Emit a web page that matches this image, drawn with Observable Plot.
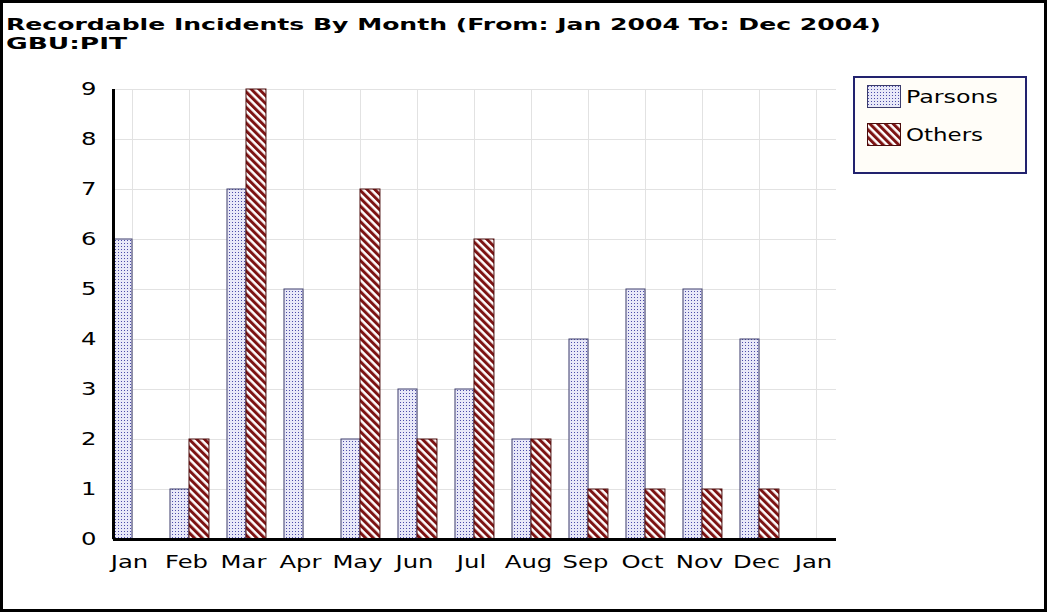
<!DOCTYPE html>
<html><head><meta charset="utf-8">
<script src="https://cdn.jsdelivr.net/npm/d3@7"></script>
<script src="https://cdn.jsdelivr.net/npm/@observablehq/plot@0.6"></script>
<style>
html,body{margin:0;padding:0;background:#fff;}
#wrap{position:relative;width:1047px;height:612px;overflow:hidden;background:#fff;font-family:"DejaVu Sans",sans-serif;color:#000;}
#frame{position:absolute;left:0;top:0;width:1047px;height:612px;box-sizing:border-box;border:3px solid #000;pointer-events:none;}
#head{position:relative;height:50px;}
.tline{position:absolute;left:6px;font-weight:bold;font-size:16px;line-height:normal;white-space:nowrap;transform-origin:0 50%;}
#chart svg{display:block;}
#legend{position:absolute;left:853px;top:76px;width:174px;height:98px;box-sizing:border-box;border:2px solid #22226e;background:#fffdf8;}
.item{position:absolute;left:12px;height:23px;display:flex;align-items:center;}
.item svg{display:block;}
.item span{font-size:18px;white-space:nowrap;transform-origin:0 50%;display:inline-block;margin-left:5px;}
</style></head>
<body>
<svg width="0" height="0" style="position:absolute">
  <defs>
    <pattern id="patParsons" patternUnits="userSpaceOnUse" width="3" height="3">
      <rect width="3" height="3" fill="#e8e8f8"></rect>
      <rect x="1" y="1" width="1" height="1" fill="#4c4ca8"></rect>
    </pattern>
    <pattern id="patOthers" patternUnits="userSpaceOnUse" width="5.5" height="5.5" patternTransform="rotate(-45)">
      <rect width="5.5" height="5.5" fill="#ffffff"></rect>
      <rect x="0" y="0" width="3" height="5.5" fill="#7d1313"></rect>
    </pattern>
  </defs>
</svg>
<div id="wrap">
  <div id="head">
    <div class="tline" id="t1" style="top:15px"></div>
    <div class="tline" id="t2" style="top:34px"></div>
  </div>
  <div id="chart"></div>
  <div id="legend"></div>
  <div id="frame"></div>
</div>
<script>
const titleText = "Recordable Incidents By Month (From: Jan 2004 To: Dec 2004)";
const subtitleText = "GBU:PIT";
const months = ["Jan","Feb","Mar","Apr","May","Jun","Jul","Aug","Sep","Oct","Nov","Dec","Jan"];
const parsons = [6,1,7,5,2,3,3,2,4,5,5,4];
const others  = [0,2,9,0,7,2,6,2,1,1,1,1];
const yTicks = [0,1,2,3,4,5,6,7,8,9];
const seriesNames = ["Parsons","Others"];
const seriesFill = ["url(#patParsons)","url(#patOthers)"];
const seriesStroke = ["#3c3c6c","#4a0c0c"];

function fitWidth(el, target) {
  const w = el.getBoundingClientRect().width;
  if (w > 0) el.style.transform = `scaleX(${target / w})`;
}

const t1 = document.getElementById("t1");
const t2 = document.getElementById("t2");
t1.textContent = titleText;
t2.textContent = subtitleText;
fitWidth(t1, 875);
fitWidth(t2, 121);

const idx = months.map((_, i) => i);
const pData = parsons.map((v, i) => ({i, v})).filter(d => d.v > 0);
const oData = others.map((v, i) => ({i, v})).filter(d => d.v > 0);

const chart = Plot.plot({
  width: 1047, height: 562,
  marginLeft: 113, marginRight: 211, marginTop: 39, marginBottom: 73,
  x: {type: "linear", domain: [-1/3, 12.351]},
  y: {domain: [0, 9]},
  style: {fontFamily: "DejaVu Sans", fontSize: "18px", color: "#000", background: "transparent", overflow: "visible"},
  marks: [
    Plot.ruleY(yTicks, {stroke: "#e2e2e2", strokeWidth: 1}),
    Plot.ruleX(idx, {stroke: "#e2e2e2", strokeWidth: 1}),
    Plot.rect(pData, {x1: d => d.i - 1/3, x2: d => d.i, y1: 0, y2: "v", fill: seriesFill[0], stroke: seriesStroke[0], strokeWidth: 1}),
    Plot.rect(oData, {x1: d => d.i, x2: d => d.i + 0.35, y1: 0, y2: "v", fill: seriesFill[1], stroke: seriesStroke[1], strokeWidth: 1}),
    Plot.ruleY([0], {stroke: "#000", strokeWidth: 3}),
    Plot.ruleX([-1/3], {stroke: "#000", strokeWidth: 3}),
    Plot.axisX(idx, {tickSize: 0, tickPadding: 16, dx: -3, tickFormat: i => months[i], label: null}),
    Plot.axisY(yTicks, {tickSize: 0, tickPadding: 17, tickFormat: d => String(d), label: null})
  ]
});
document.getElementById("chart").appendChild(chart);

// stretch tick label glyphs horizontally to match the reference's wide font
d3.select(chart).selectAll('g[aria-label$="tick label"] text').each(function() {
  let t = this.getAttribute("transform");
  if (!t) {
    const x = this.getAttribute("x") || 0, y = this.getAttribute("y") || 0;
    this.removeAttribute("x"); this.removeAttribute("y");
    t = `translate(${x},${y})`;
  }
  this.setAttribute("transform", t + " scale(1.35,1)");
});

// legend
const legend = document.getElementById("legend");
const tops = [7, 45];
const widths = [92, 77];
seriesNames.forEach((name, k) => {
  const item = document.createElement("div");
  item.className = "item";
  item.style.top = tops[k] + "px";
  item.innerHTML = `<svg width="34" height="23"><rect x="0.5" y="0.5" width="33" height="22" fill="${seriesFill[k]}" stroke="${seriesStroke[k]}" stroke-width="1"></rect></svg><span>${name}</span>`;
  legend.appendChild(item);
  fitWidth(item.querySelector("span"), widths[k]);
});
</script>
</body></html>
